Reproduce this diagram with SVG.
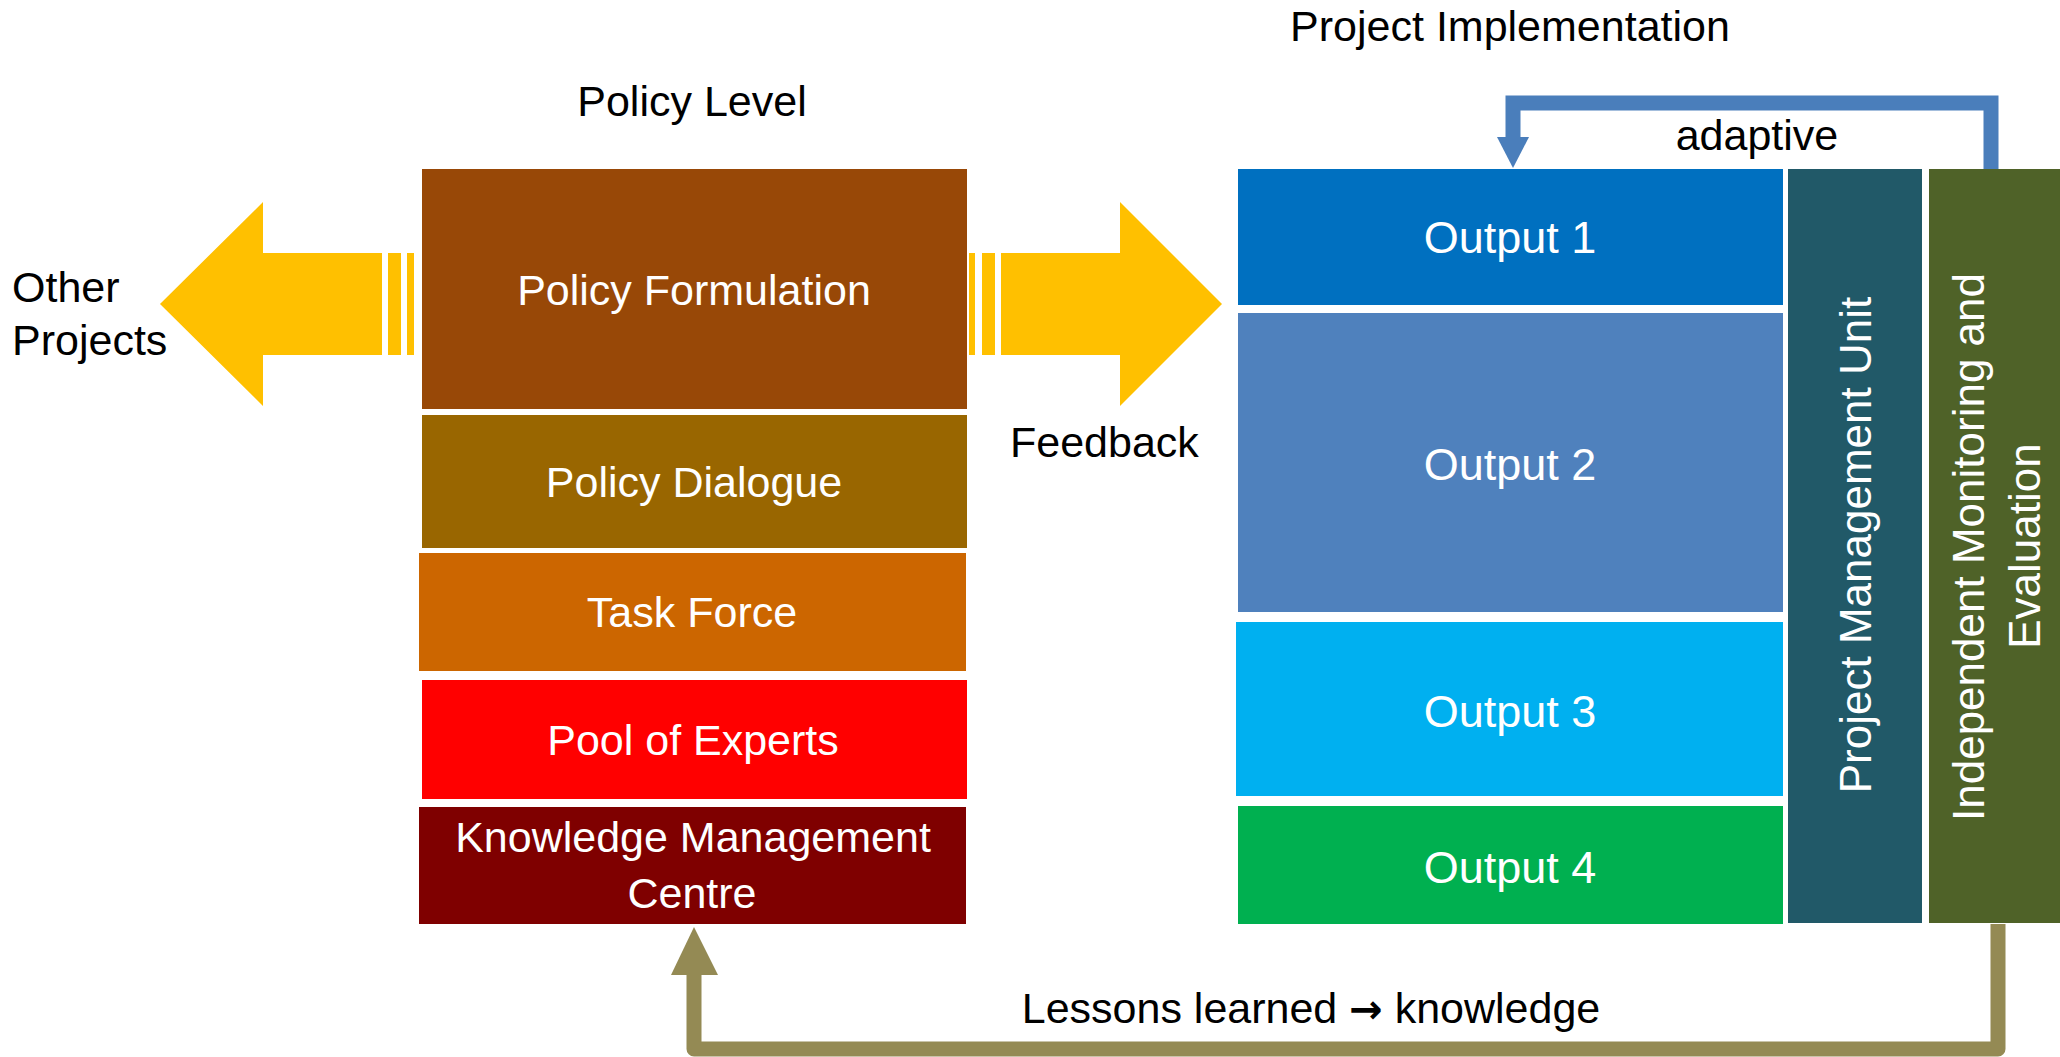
<svg xmlns="http://www.w3.org/2000/svg" width="2060" height="1057" viewBox="0 0 2060 1057">
<style>
text{font-family:"Liberation Sans",Arial,sans-serif}
.dk{fill:#000;font-size:43px}
.wt{fill:#fff;font-size:43px;text-anchor:middle}
.out{fill:#fff;font-size:45px;text-anchor:middle}
.vt{fill:#fff;font-size:44px;text-anchor:middle}
.yel{fill:#FFC000}
.blue{fill:none;stroke:#4A7EBB;stroke-width:15;stroke-linejoin:miter}
.olive{fill:none;stroke:#948A54;stroke-width:15;stroke-linejoin:round}
.arr{font-family:"DejaVu Sans",sans-serif;font-weight:bold}
</style>
<rect width="2060" height="1057" fill="#fff"/>

<g id="title-policy"><text class="dk" x="692" y="116" text-anchor="middle" font-size="42">Policy Level</text></g>
<g id="title-project"><text class="dk" x="1510" y="41" text-anchor="middle" font-size="44">Project Implementation</text></g>

<g id="other-projects">
<text class="dk" x="12" y="302" font-size="42">Other</text>
<text class="dk" x="12" y="355" font-size="42">Projects</text>
</g>

<g id="arrow-left">
<polygon class="yel" points="160,304 263,202 263,253 382,253 382,355 263,355 263,406"/>
<rect class="yel" x="388" y="253" width="13" height="102"/>
<rect class="yel" x="407" y="253" width="7" height="102"/>
</g>

<g id="arrow-right">
<rect class="yel" x="969" y="253" width="6" height="102"/>
<rect class="yel" x="982" y="253" width="13" height="102"/>
<polygon class="yel" points="1001,253 1120,253 1120,202 1222,304 1120,406 1120,355 1001,355"/>
</g>
<g id="feedback-label"><text class="dk" x="1010" y="457" font-size="41">Feedback</text></g>

<g id="policy-formulation"><rect x="422" y="169" width="545" height="240" fill="#984807"/><text class="wt" x="694" y="305">Policy Formulation</text></g>
<g id="policy-dialogue"><rect x="422" y="415" width="545" height="133" fill="#996600"/><text class="wt" x="694" y="497" font-size="42">Policy Dialogue</text></g>
<g id="task-force"><rect x="419" y="553" width="547" height="118" fill="#CC6600"/><text class="wt" x="692" y="627" font-size="41">Task Force</text></g>
<g id="pool-of-experts"><rect x="422" y="680" width="545" height="119" fill="#FF0000"/><text class="wt" x="693" y="755" font-size="42">Pool of Experts</text></g>
<g id="knowledge-centre"><rect x="419" y="807" width="547" height="117" fill="#7F0000"/><text class="wt" x="693" y="852">Knowledge Management</text><text class="wt" x="692" y="908">Centre</text></g>

<g id="output-1"><rect x="1238" y="169" width="545" height="136" fill="#0070C0"/><text class="out" x="1510" y="253">Output 1</text></g>
<g id="output-2"><rect x="1238" y="313" width="545" height="299" fill="#4F81BD"/><text class="out" x="1510" y="480">Output 2</text></g>
<g id="output-3"><rect x="1236" y="622" width="547" height="174" fill="#00B0F0"/><text class="out" x="1510" y="727">Output 3</text></g>
<g id="output-4"><rect x="1238" y="806" width="545" height="118" fill="#00B050"/><text class="out" x="1510" y="883">Output 4</text></g>

<g id="pmu"><rect x="1788" y="169" width="134" height="754" fill="#215968"/><text class="vt" transform="translate(1871,545) rotate(-90)">Project Management Unit</text></g>
<g id="ime"><rect x="1929" y="169" width="131" height="754" fill="#4F6228"/>
<text class="vt" transform="translate(1984,547) rotate(-90)">Independent Monitoring and</text>
<text class="vt" transform="translate(2040,546) rotate(-90)">Evaluation</text></g>

<g id="connectors">
<path class="blue" d="M1991,169 V103 H1513 V138"/>
<polygon fill="#4A7EBB" points="1497,137 1529,137 1513,168"/>
<path class="olive" d="M1998,924 V1049 H694 V972"/>
<polygon fill="#948A54" points="671,975 718,975 694,927"/>
</g>
<g id="connector-labels">
<text class="dk" x="1757" y="150" text-anchor="middle">adaptive</text>
<text class="dk" x="1311" y="1023" text-anchor="middle">Lessons learned <tspan class="arr" font-size="40">→</tspan> knowledge</text>
</g>
</svg>
